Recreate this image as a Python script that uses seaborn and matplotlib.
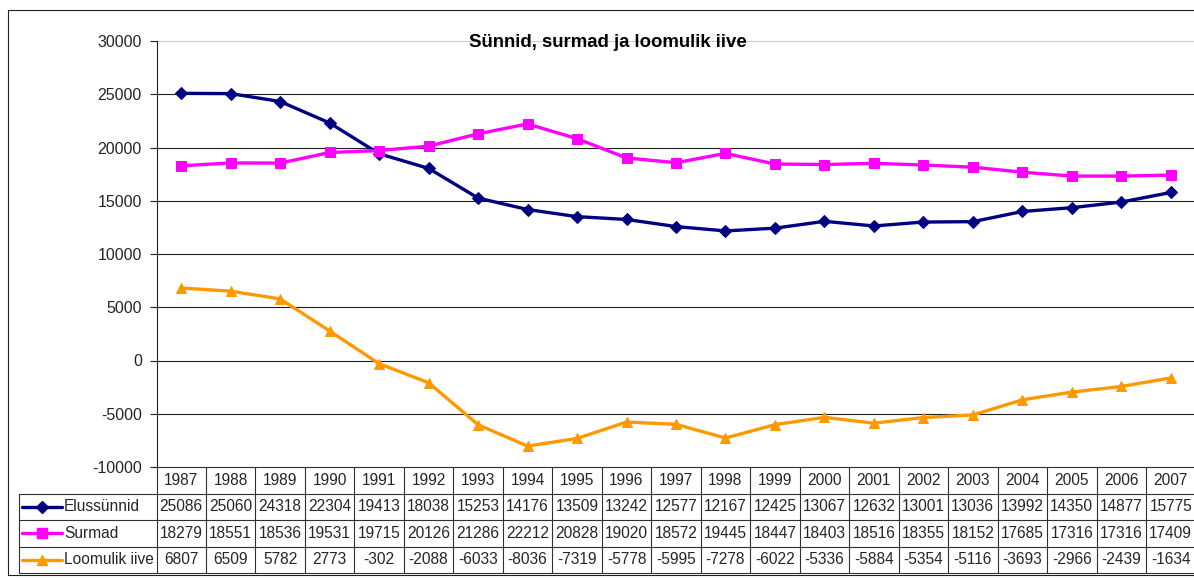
import numpy as np
import pandas as pd
import matplotlib
matplotlib.use("Agg")
import matplotlib.pyplot as plt
from matplotlib.lines import Line2D
import seaborn as sns

years = [1987, 1988, 1989, 1990, 1991, 1992, 1993, 1994, 1995, 1996, 1997,
         1998, 1999, 2000, 2001, 2002, 2003, 2004, 2005, 2006, 2007]
elussunnid = [25086, 25060, 24318, 22304, 19413, 18038, 15253, 14176, 13509, 13242, 12577,
              12167, 12425, 13067, 12632, 13001, 13036, 13992, 14350, 14877, 15775]
surmad = [18279, 18551, 18536, 19531, 19715, 20126, 21286, 22212, 20828, 19020, 18572,
          19445, 18447, 18403, 18516, 18355, 18152, 17685, 17316, 17316, 17409]
loomulik_iive = [6807, 6509, 5782, 2773, -302, -2088, -6033, -8036, -7319, -5778, -5995,
                 -7278, -6022, -5336, -5884, -5354, -5116, -3693, -2966, -2439, -1634]
series_names = ["Elussünnid", "Surmad", "Loomulik iive"]
series_values = [elussunnid, surmad, loomulik_iive]
y_ticks = [-10000, -5000, 0, 5000, 10000, 15000, 20000, 25000, 30000]
title = "Sünnid, surmad ja loomulik iive"

colors = {"Elussünnid": "#000080", "Surmad": "#FF00FF", "Loomulik iive": "#FF9900"}
markers = {"Elussünnid": "D", "Surmad": "s", "Loomulik iive": "^"}
msizes = {"Elussünnid": 6.5, "Surmad": 7, "Loomulik iive": 7}

sns.set_theme(style="white")
plt.rcParams['font.family'] = ['Liberation Sans', 'DejaVu Sans']

W, H = 1194, 580
fig = plt.figure(figsize=(W / 100, H / 100), dpi=100)

def fx(px):
    return px / W

def fy(py):
    return 1 - py / H

ax_l, ax_r, ax_t, ax_b = 156.5, 1195.5, 41, 467
ax = fig.add_axes([fx(ax_l), fy(ax_b), fx(ax_r - ax_l), (ax_b - ax_t) / H])

rows = []
for name, vals in zip(series_names, series_values):
    for i, v in enumerate(vals):
        rows.append({"idx": i, "value": v, "series": name})
df = pd.DataFrame(rows)

# gridlines
for t in y_ticks[1:]:
    ax.axhline(t, color="#c8c8c8" if t == 30000 else "#202020", lw=0.8, zorder=0)

for name in series_names:
    sub = df[df.series == name]
    sns.lineplot(data=sub, x="idx", y="value", ax=ax, color=colors[name],
                 marker=markers[name], markersize=msizes[name],
                 markeredgecolor=colors[name], markerfacecolor=colors[name],
                 linewidth=2.4, legend=False, zorder=3)

ax.set_xlim(-0.5, len(years) - 0.5)
ax.set_ylim(-10000, 30000)
ax.set_yticks(y_ticks)
ax.set_yticklabels([str(t) for t in y_ticks], fontsize=11.5)
ax.set_xticks([])
ax.set_xlabel("")
ax.set_ylabel("")
ax.tick_params(axis="y", length=5, width=0.8, color="#202020", pad=5.5, left=True)
for s in ["top", "right", "bottom"]:
    ax.spines[s].set_visible(False)
ax.spines["left"].set_color("#202020")
ax.spines["left"].set_linewidth(0.8)

# title
fig.text(fx(608), fy(47), title, ha="center", va="baseline",
         fontsize=13.4, fontweight="bold", color="black")

# data table
tb_t, tb_b = 467, 573
tax = fig.add_axes([fx(ax_l), fy(tb_b), fx(ax_r - ax_l), (tb_b - tb_t) / H])
tax.set_xlim(-0.5, len(years) - 0.5)
tax.set_ylim(4, 0)
tax.axis("off")
unit = (ax_r - ax_l) / len(years)
left_x = -0.5 - (ax_l - 19) / unit
lc = "#303030"
lw = 0.8
tax.plot([-0.5, len(years) - 0.5], [0, 0], color=lc, lw=lw, clip_on=False)
for r in [1, 2, 3, 4]:
    tax.plot([left_x, len(years) - 0.5], [r, r], color=lc, lw=lw, clip_on=False)
for c in range(len(years) + 1):
    tax.plot([c - 0.5, c - 0.5], [0, 4], color=lc, lw=lw, clip_on=False)
tax.plot([left_x, left_x], [1, 4], color=lc, lw=lw, clip_on=False)

for i, y in enumerate(years):
    tax.text(i, 0.5, str(y), ha="center", va="center", fontsize=11.2)
for r, (name, vals) in enumerate(zip(series_names, series_values), start=1):
    for i, v in enumerate(vals):
        tax.text(i, r + 0.5, str(v), ha="center", va="center", fontsize=11.2)
    k0 = -0.5 - (ax_l - 22) / unit
    k1 = -0.5 - (ax_l - 62) / unit
    tax.plot([k0, k1], [r + 0.5, r + 0.5], color=colors[name], lw=2.4, clip_on=False)
    tax.plot([(k0 + k1) / 2], [r + 0.5], marker=markers[name], markersize=msizes[name],
             color=colors[name], clip_on=False)
    tax.text(-0.5 - (ax_l - 64) / unit, r + 0.5, name, ha="left", va="center",
             fontsize=11.2)

# outer chart border
fig.add_artist(Line2D([fx(8), fx(8)], [fy(10), fy(575)], color="#202020", lw=0.8))
fig.add_artist(Line2D([fx(8), 1], [fy(10), fy(10)], color="#202020", lw=0.8))
fig.add_artist(Line2D([fx(8), 1], [fy(575), fy(575)], color="#202020", lw=0.8))

fig.savefig("out.png", dpi=100)
